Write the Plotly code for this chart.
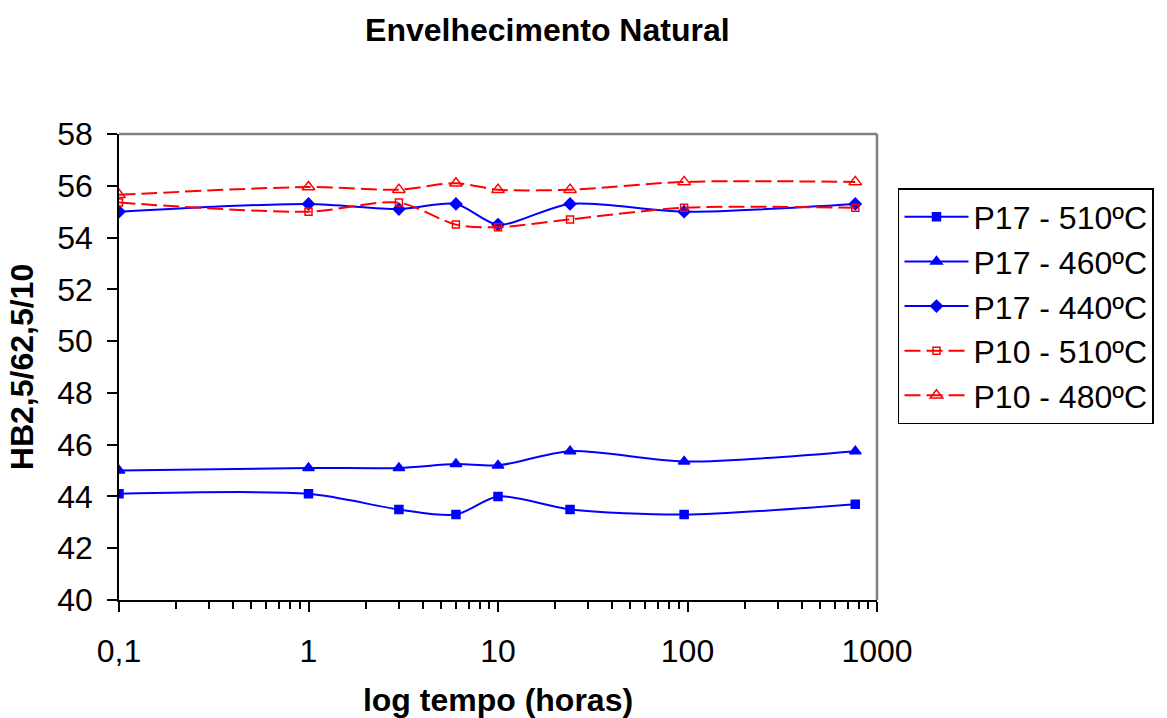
import plotly.graph_objects as go

# Aging time (hours) and hardness readings for each alloy / temperature
tempo_h = [0.1, 1, 3, 6, 10, 24, 96, 768]

p17_510 = [44.1, 44.1, 43.5, 43.3, 44.0, 43.5, 43.3, 43.7]
p17_460 = [45.0, 45.1, 45.1, 45.25, 45.2, 45.75, 45.35, 45.75]
p17_440 = [55.0, 55.3, 55.1, 55.3, 54.5, 55.3, 55.0, 55.3]
p10_510 = [55.35, 55.0, 55.35, 54.5, 54.4, 54.7, 55.15, 55.15]
p10_480 = [55.65, 55.95, 55.85, 56.1, 55.85, 55.85, 56.15, 56.15]

x_tick_vals = [0.1, 1, 10, 100, 1000]
x_tick_text = ["0,1", "1", "10", "100", "1000"]
y_tick_vals = list(range(40, 59, 2))

BLUE = "#0000FF"
RED = "#FF0000"
FONT = "Liberation Sans, Arial, sans-serif"
FS = 32

series = [
    ("P17 - 510ºC", p17_510, BLUE, "solid", "square", 8),
    ("P17 - 460ºC", p17_460, BLUE, "solid", "triangle-up", 10),
    ("P17 - 440ºC", p17_440, BLUE, "solid", "diamond", 9),
    ("P10 - 510ºC", p10_510, RED, "16px,6px", "square-open", 7),
    ("P10 - 480ºC", p10_480, RED, "16px,6px", "triangle-up-open", 11),
]

fig = go.Figure()
for name, vals, color, dash, symbol, size in series:
    fig.add_trace(go.Scatter(
        x=tempo_h, y=vals, name=name, mode="lines+markers",
        line=dict(color=color, width=2, dash=dash, shape="spline", smoothing=0.8),
        marker=dict(color=color, symbol=symbol, size=size,
                    line=dict(color=color, width=1.5)),
    ))

minor_vals = [m * 10 ** e for e in (-1, 0, 1, 2) for m in range(2, 10)]

fig.update_layout(
    width=1167, height=718,
    margin=dict(l=119, r=290, t=134, b=118),
    paper_bgcolor="white", plot_bgcolor="white",
    font=dict(family=FONT, color="black", size=FS),
    title=dict(text="<b>Envelhecimento Natural</b>", x=0.469, xref="container",
               xanchor="center", y=1 - 30 / 718, yref="container", yanchor="middle",
               font=dict(size=FS)),
    xaxis=dict(
        type="log", range=[-1, 3], tickmode="array",
        tickvals=x_tick_vals, ticktext=x_tick_text,
        showline=True, linecolor="black", linewidth=1.5,
        ticks="outside", ticklen=10, tickcolor="black", tickwidth=1.5,
        ticklabelstandoff=12, automargin=False,
        showgrid=False, zeroline=False,
        minor=dict(tickmode="array", tickvals=minor_vals, ticks="outside",
                   ticklen=7, tickcolor="black", tickwidth=1.5, showgrid=False),
        title=dict(text="<b>log tempo (horas)</b>", standoff=22, font=dict(size=FS)),
        tickfont=dict(size=FS),
    ),
    yaxis=dict(
        range=[40, 58], tickmode="array", tickvals=y_tick_vals,
        showline=True, linecolor="black", linewidth=1.5,
        ticks="outside", ticklen=10, tickcolor="black", tickwidth=1.5,
        ticklabelstandoff=8, automargin=False,
        showgrid=False, zeroline=False,
        title=dict(text="<b>HB2,5/62,5/10</b>", standoff=14, font=dict(size=FS)),
        tickfont=dict(size=FS),
    ),
    legend=dict(
        x=1.0277, y=0.884, xanchor="left", yanchor="top",
        bordercolor="black", borderwidth=1.5, bgcolor="white",
        font=dict(size=FS), itemwidth=64, tracegroupgap=0,
    ),
    shapes=[
        dict(type="line", xref="paper", yref="paper", x0=0, x1=1, y0=1, y1=1,
             line=dict(color="#808080", width=2.5), layer="below"),
        dict(type="line", xref="paper", yref="paper", x0=1, x1=1, y0=0, y1=1,
             line=dict(color="#808080", width=2.5), layer="below"),
    ],
)

fig.write_html("out.html")
